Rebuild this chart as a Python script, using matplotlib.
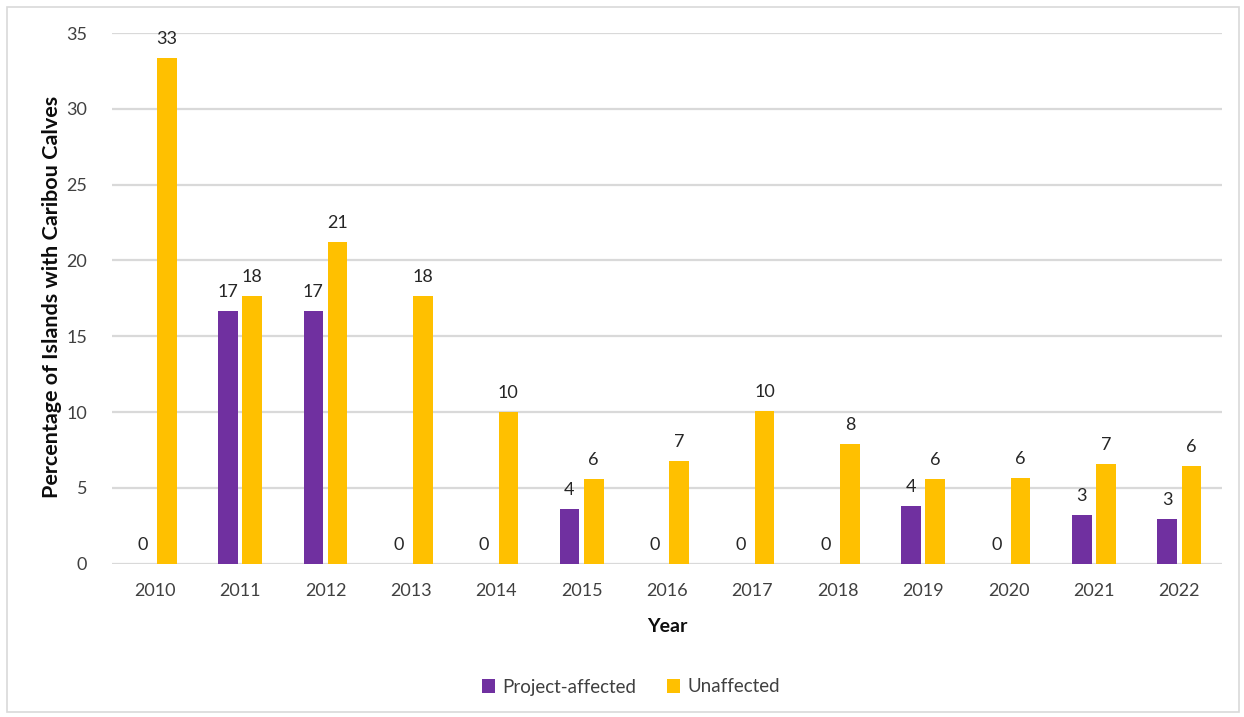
import matplotlib
matplotlib.use("Agg")
import matplotlib.pyplot as plt
import numpy as np
from matplotlib.patches import Rectangle

years = ["2010", "2011", "2012", "2013", "2014", "2015", "2016", "2017",
         "2018", "2019", "2020", "2021", "2022"]
project_affected = [0, 16.67, 16.67, 0, 0, 3.6, 0, 0, 0, 3.83, 0, 3.23, 2.93]
unaffected = [33.33, 17.65, 21.2, 17.65, 10.0, 5.57, 6.75, 10.07, 7.88, 5.59, 5.67, 6.56, 6.46]
series_names = ["Project-affected", "Unaffected"]
colors = ["#7030A0", "#FFC000"]

plt.rcParams['font.family'] = ['Lato', 'DejaVu Sans']

W, H = 1244, 717
fig = plt.figure(figsize=(W / 100, H / 100), dpi=100)
fig.patches.append(Rectangle((7/W, 1 - 712/H), 1232/W, 705/H,
                             transform=fig.transFigure, fill=False,
                             edgecolor="#D9D9D9", linewidth=1.2))

ax = fig.add_axes([112/W, 1 - 563.7/H, 1110/W, (563.7 - 33)/H])
x = np.arange(len(years))
w = 0.23
off = 0.142
for vals, dx, c, name in [(project_affected, -off, colors[0], series_names[0]),
                          (unaffected, off, colors[1], series_names[1])]:
    ax.bar(x + dx, vals, width=w, color=c, label=name, zorder=3)
    for xi, v in zip(x + dx, vals):
        ax.annotate(f"{v:.0f}", (xi, v), xytext=(0, 8), textcoords="offset points",
                    ha="center", va="bottom", fontsize=13, color="#262626")

ax.set_xlim(-0.5, len(years) - 0.5)
ax.set_ylim(0, 35)
ax.set_yticks(np.arange(0, 36, 5))
ax.set_xticks(x)
ax.set_xticklabels(years)
ax.tick_params(axis="both", length=0, labelsize=13, labelcolor="#404040")
ax.tick_params(axis="x", pad=14)
ax.tick_params(axis="y", pad=18)
ax.yaxis.grid(True, color="#D9D9D9", linewidth=1.6, zorder=0)
for s in ax.spines.values():
    s.set_visible(False)

ylab = fig.text(52/W, 1 - 297/H, "Percentage of Islands with Caribou Calves",
                rotation=90, ha="center", va="center", fontsize=13,
                fontweight="bold", color="#0D0D0D")
# fit the label length to the reference (about 401 px)
renderer = fig.canvas.get_renderer()
bb = ylab.get_window_extent(renderer)
ylab.set_fontsize(13 * 401.0 / bb.height)

fig.text(667/W, 1 - 626/H, "Year", ha="center", va="center",
         fontsize=14, fontweight="bold", color="#0D0D0D")

leg = fig.legend(loc="center", bbox_to_anchor=(631/W, 1 - 687/H), ncol=2,
                 frameon=False, fontsize=13.5, handlelength=0.7, handleheight=0.7,
                 columnspacing=1.6, handletextpad=0.4)
for t in leg.get_texts():
    t.set_color("#404040")

fig.savefig("out.png", dpi=100)
